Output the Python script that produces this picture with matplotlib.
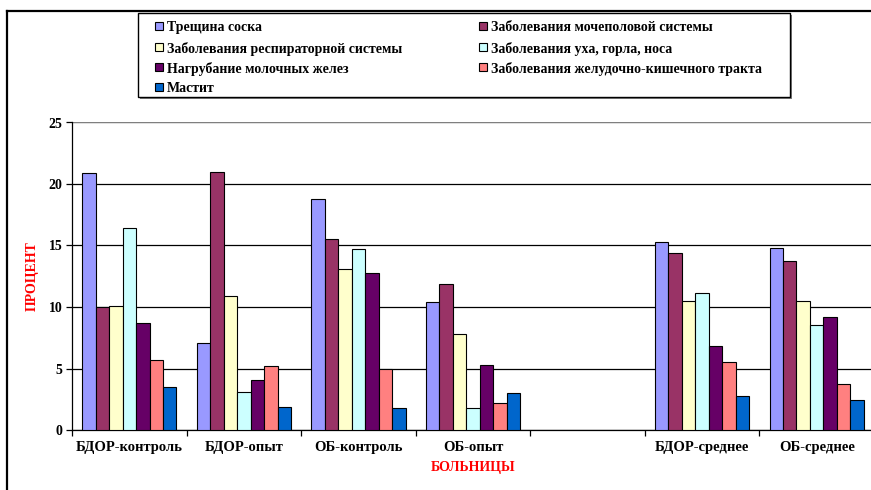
import numpy as np
import matplotlib.pyplot as plt
from matplotlib.lines import Line2D
from matplotlib.patches import Rectangle

# hospitals (one empty slot between the raw groups and the averages)
hospitals = ["БДОР-контроль", "БДОР-опыт", "ОБ-контроль", "ОБ-опыт", "",
             "БДОР-среднее", "ОБ-среднее"]

diseases = [
    "Трещина соска",
    "Заболевания мочеполовой системы",
    "Заболевания респираторной системы",
    "Заболевания уха, горла, носа",
    "Нагрубание молочных желез",
    "Заболевания желудочно-кишечного тракта",
    "Мастит",
]

nan = np.nan
teat_crack = [20.9, 7.1, 18.8, 10.4, nan, 15.3, 14.8]
urogenital = [10.0, 21.0, 15.5, 11.9, nan, 14.4, 13.7]
respiratory = [10.1, 10.9, 13.1, 7.8, nan, 10.5, 10.5]
ent = [16.4, 3.1, 14.7, 1.8, nan, 11.1, 8.5]
engorgement = [8.7, 4.1, 12.8, 5.3, nan, 6.8, 9.2]
digestive = [5.7, 5.2, 5.0, 2.2, nan, 5.5, 3.7]
mastitis = [3.5, 1.9, 1.8, 3.0, nan, 2.8, 2.4]

series = [teat_crack, urogenital, respiratory, ent, engorgement, digestive, mastitis]
colors = ["#9999FF", "#993366", "#FFFFCC", "#CCFFFF", "#660066", "#FF8080", "#0066CC"]

plt.rcParams["font.family"] = "Liberation Serif"
plt.rcParams["font.weight"] = "bold"

W, H = 871, 490
fig = plt.figure(figsize=(W / 100, H / 100), dpi=100)


def fx(px):
    return px / W


def fy(py):
    return 1 - py / H


ax = fig.add_axes([fx(72), fy(430), fx(802), 307.5 / H])

n = len(series)
bar_w = 0.1177
group_w = bar_w * n
x = np.arange(len(hospitals))
for j, (vals, c) in enumerate(zip(series, colors)):
    pos = x + 0.5 - group_w / 2 + (j + 0.5) * bar_w
    ax.bar(pos, vals, width=bar_w, color=c, edgecolor="black",
           linewidth=0.8, zorder=3)

ax.set_xlim(0, len(hospitals))
ax.set_ylim(0, 25)
ax.set_yticks(np.arange(0, 26, 5))
ax.yaxis.grid(True, color="black", linewidth=0.9, zorder=0)
ax.set_axisbelow(True)

# category boundaries get the tick marks, labels sit at the centres
ax.set_xticks(np.arange(0, len(hospitals) + 1))
ax.set_xticklabels([])
ax.set_xticks(x + 0.5, minor=True)
ax.set_xticklabels(hospitals, minor=True, fontsize=10.5, fontweight="bold")
ax.tick_params(axis="x", which="major", direction="out", length=4, width=0.9)
ax.tick_params(axis="x", which="minor", length=0, pad=8)
ax.tick_params(axis="y", direction="out", length=4, width=0.9, pad=3, labelsize=10)

for side in ["top", "right"]:
    ax.spines[side].set_visible(False)
ax.spines["left"].set_linewidth(0.9)
ax.spines["bottom"].set_linewidth(0.9)
ax.axhline(25, color="#999999", linewidth=1.2, zorder=1)

ax.set_ylabel("ПРОЦЕНТ", color="red", fontsize=10, fontweight="bold", labelpad=7)
ax.set_xlabel("БОЛЬНИЦЫ", color="red", fontsize=10, fontweight="bold", labelpad=5)

# legend box, two columns read row by row
fig.add_artist(Rectangle((fx(140), fy(99)), fx(652), 84 / H, transform=fig.transFigure,
                         facecolor="#808080", edgecolor="none", zorder=4))
fig.add_artist(Rectangle((fx(138), fy(97)), fx(652), 84 / H, transform=fig.transFigure,
                         facecolor="white", edgecolor="black", linewidth=1.0, zorder=5))
col_x = [155, 479]
row_y = [26, 47, 67, 87]
for k, (name, c) in enumerate(zip(diseases, colors)):
    cx = col_x[k % 2]
    cy = row_y[k // 2]
    fig.add_artist(Rectangle((fx(cx), fy(cy + 4)), fx(8), 8 / H,
                             transform=fig.transFigure, facecolor=c,
                             edgecolor="black", linewidth=0.8, zorder=6))
    fig.text(fx(cx + 12), fy(cy + 1.5), name, fontsize=10, fontweight="bold",
             ha="left", va="center", zorder=6)

# page frame around the chart
fig.add_artist(Line2D([fx(7), 1], [fy(11)] * 2, color="black", linewidth=1.6))
fig.add_artist(Line2D([fx(7)] * 2, [0, fy(11)], color="black", linewidth=1.6))

fig.savefig("out.png", dpi=100)
